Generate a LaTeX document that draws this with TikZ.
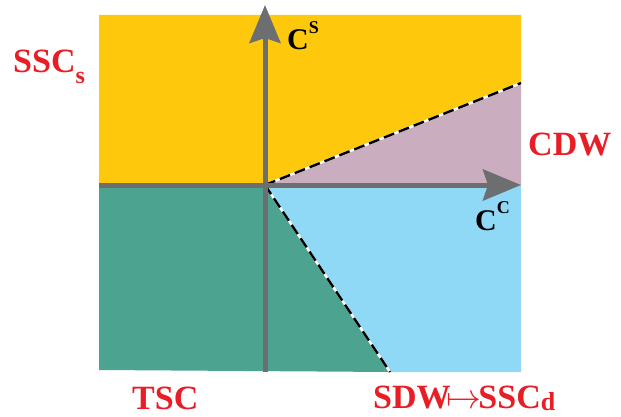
\documentclass[tikz,border=0pt]{standalone}
\usepackage{fontspec}
\setmainfont{Liberation Serif}
\usetikzlibrary{arrows.meta,positioning,calc}
\definecolor{Amber}{HTML}{FEC90C}
\definecolor{Mauve}{HTML}{CAAEBF}
\definecolor{Jade}{HTML}{4BA390}
\definecolor{Sky}{HTML}{8FD8F6}
\definecolor{AxisGrey}{HTML}{6D6E70}
\definecolor{PhaseRed}{HTML}{E91D25}

\begin{document}
\begin{tikzpicture}[
  x=1pt,y=-1pt,
  every node/.style={inner sep=0pt,anchor=base west},
  phase/.style={font=\fontsize{34}{36}\selectfont\bfseries,text=PhaseRed},
  axislab/.style={font=\fontsize{30}{32}\selectfont\bfseries,text=black},
  axis/.style={line width=5pt,AxisGrey,-{Stealth[length=38pt,width=31pt,inset=5pt]}},
  bound/.style={line width=2.4pt,dash pattern=on 11pt off 5pt}
]
\useasboundingbox (0,0) rectangle (621,417);
\coordinate (o) at (265,185);
\coordinate (ne) at (521,83);
\coordinate (sw) at (390,372);
% phase regions
\fill[Amber] (99,15) -- (521,15) -- (ne) -- (o) -- (99,185) -- cycle;
\fill[Mauve] (o) -- (ne) -- (521,185) -- cycle;
\fill[Jade] (99,185) -- (o) -- (sw) -- (99,370) -- cycle;
\fill[Sky] (o) -- (521,185) -- (521,372) -- (sw) -- cycle;
% phase boundaries
\draw[white,line width=2.4pt] (o) -- (ne) (o) -- (sw);
\draw[bound] (o) -- (ne) (o) -- (sw);
% axes
\draw[axis] (99,185) -- (521,185);
\draw[axis] (265,372) -- (265,5);
\node[axislab] (cs) at (287,50) {C\raisebox{0.55em}{\fontsize{18}{18}\selectfont S}};
\node[axislab] (cc) at (475,230) {C\raisebox{0.55em}{\fontsize{18}{18}\selectfont C}};
% labels
\node[phase] (ssc) at (13,73) {SSC\raisebox{-0.3em}{\fontsize{24}{24}\selectfont s}};
\node[phase] (cdw) at (528,155) {CDW};
\node[phase] (tsc) at (132,409) {TSC};
\node[phase] (sdw) at (373,408) {SDW\kern-4pt\scalebox{1.4}{$\mapsto$}\kern-3ptSSC\raisebox{-0.06em}{\fontsize{26}{26}\selectfont d}};
\end{tikzpicture}
\end{document}
